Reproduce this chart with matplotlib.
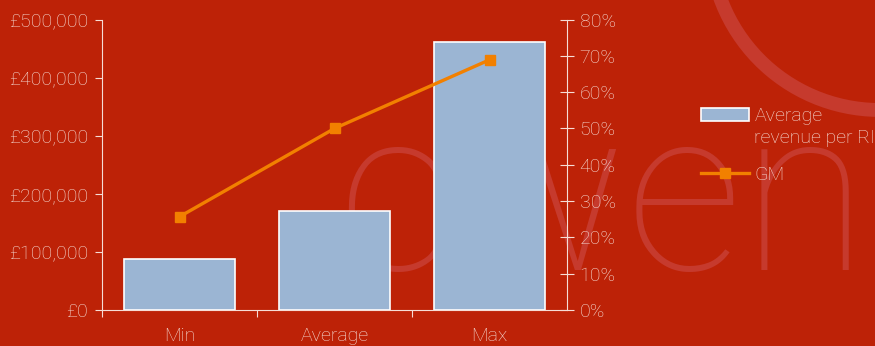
import numpy as np
import matplotlib.pyplot as plt
from matplotlib.lines import Line2D
from matplotlib.patches import Patch, Arc

categories = ["Min", "Average", "Max"]
revenue = [87000, 170000, 461000]   # average revenue per RI, GBP
gm = [25.7, 50.0, 68.9]             # gross margin, %

BG = "#BD2207"
BAR = "#9BB5D3"
ORANGE = "#F28000"
FG = "#F6DDD6"
WM = "#C63A2D"

plt.rcParams["font.family"] = ["Roboto", "DejaVu Sans"]
plt.rcParams["font.weight"] = "light"
FS = 14

fig = plt.figure(figsize=(8.75, 3.46), dpi=100, facecolor=BG)

# faint logo watermark behind the chart
fig.text(0.385, 0.22, "cwen", fontsize=165, color=WM, fontweight="light",
         va="baseline", ha="left", zorder=0)
fig.patches.append(Arc((880, 406), 340, 340, theta1=185, theta2=275,
                       transform=None, color=WM, linewidth=10, zorder=0))

ax = fig.add_axes([0.1166, 0.104, 0.5314, 0.8396])
ax.set_zorder(2)
ax.set_facecolor("none")
x = np.arange(len(categories))
ax.bar(x, revenue, width=0.71, color=BAR, edgecolor="white", linewidth=1.2, zorder=2)
ax.set_xlim(-0.5, 2.5)
ax.set_ylim(0, 500000)
ax.set_yticks(np.arange(0, 500001, 100000))
ax.set_yticklabels(["£0"] + ["£{:,}".format(v) for v in range(100000, 500001, 100000)])
ax.set_xticks([-0.5, 0.5, 1.5])
ax.set_xticklabels([])
ax.set_xticks(x, minor=True)
ax.set_xticklabels(categories, minor=True)
ax.tick_params(axis="x", which="minor", length=0, pad=12)
ax.tick_params(axis="x", which="major", direction="out", length=5, color=FG)
ax.tick_params(axis="y", direction="out", length=5, color=FG, pad=5)
ax.tick_params(labelcolor=FG, labelsize=FS, which="both")
for s in ["left", "bottom"]:
    ax.spines[s].set_color(FG)
for s in ["top", "right"]:
    ax.spines[s].set_visible(False)

ax2 = ax.twinx()
ax2.set_zorder(3)
ax2.plot(x, gm, color=ORANGE, linewidth=2.4, marker="s", markersize=7, zorder=3)
ax2.set_ylim(0, 80)
ax2.set_yticks(np.arange(0, 81, 10))
ax2.set_yticklabels(["{}%".format(v) for v in range(0, 81, 10)])
ax2.tick_params(axis="y", direction="inout", length=10, color=FG, labelcolor=FG,
                labelsize=FS, pad=4)
for s in ["top", "left", "bottom"]:
    ax2.spines[s].set_visible(False)
ax2.spines["right"].set_color(FG)

handles = [Patch(facecolor=BAR, edgecolor="white", linewidth=1.2),
           Line2D([0], [0], color=ORANGE, linewidth=2.4, marker="s", markersize=7)]
leg = fig.legend(handles, ["Average", "GM"], loc="upper left",
                 bbox_to_anchor=(0.781, 0.741), frameon=False, fontsize=FS,
                 labelcolor=FG, handlelength=2.5, handletextpad=0.25,
                 labelspacing=2.1, borderaxespad=0.5)

# second line of the first legend label, hanging under "Average"
fig.canvas.draw()
bb = leg.get_texts()[0].get_window_extent()
fig.text(bb.x0 / fig.bbox.width, (bb.y0 - 4) / fig.bbox.height, "revenue per RI",
         fontsize=FS, color=FG, ha="left", va="top", zorder=5)

fig.savefig("out.png", dpi=100, facecolor=BG)
